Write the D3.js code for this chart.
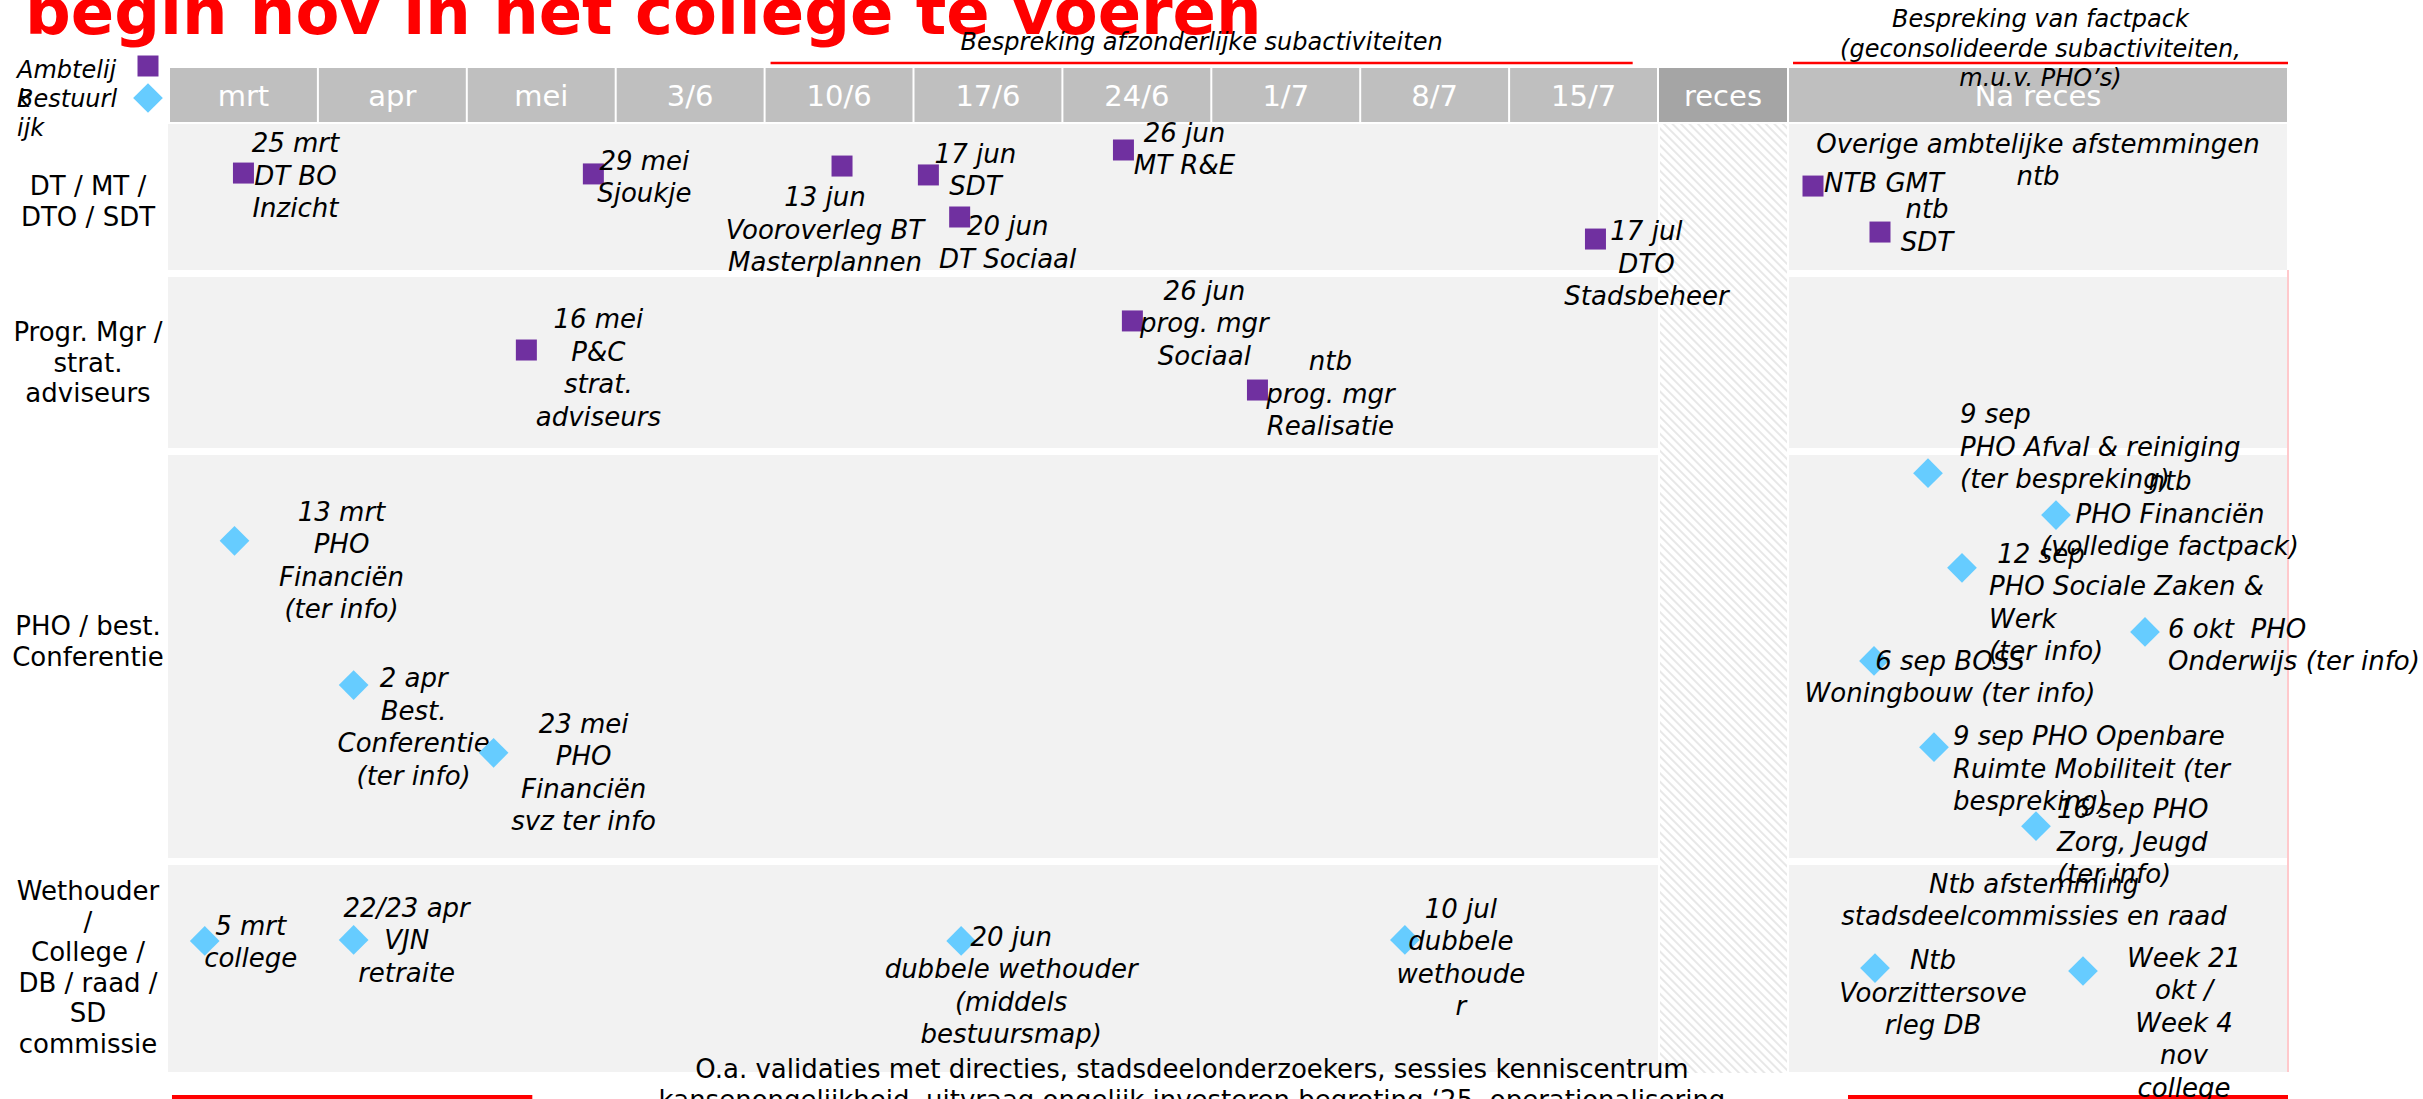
<!DOCTYPE html>
<html lang="nl">
<head>
<meta charset="UTF-8" />
<title>Planning factpack</title>
<script src="https://d3js.org/d3.v7.min.js"></script>
<style>
  body { margin: 0; background: #fff; }
  svg text { font-family: "DejaVu Sans", sans-serif; white-space: pre; }
</style>
</head>
<body></body>
<script>
  // --- data ---
  var title = "begin nov in het college te voeren";

  var columns = ["mrt", "apr", "mei", "3/6", "10/6", "17/6", "24/6", "1/7", "8/7", "15/7", "reces", "Na reces"];

  var rowLabels = [
    ["DT / MT /", "DTO / SDT"],
    ["Progr. Mgr /", "strat.", "adviseurs"],
    ["PHO / best.", "Conferentie"],
    ["Wethouder", "/", "College /", "DB / raad /", "SD", "commissie"]
  ];

  var legendItems = [
    { kind: "ambtelijk", label: ["Ambtelij", "k"] },
    { kind: "bestuurlijk", label: ["Bestuurl", "ijk"] }
  ];

  // phases above the header: from / to in column units
  var phases = [
    { from: 4.04, to: 9.83, text: ["Bespreking afzonderlijke subactiviteiten"] },
    { from: 11.01, to: 12, text: ["Bespreking van factpack", "(geconsolideerde subactiviteiten,", "m.u.v. PHO’s)"] }
  ];
  var bottomBars = [
    { from: 0.02, to: 2.44 },
    { from: 11.12, to: 12 }
  ];

  // at = position in column units, v = position inside the row (0 top .. 1 bottom)
  var ambtelijk = [
    { row: 0, at: 0.5, v: 0.336, text: ["25 mrt", "DT BO", "Inzicht"] },
    { row: 0, at: 2.85, v: 0.342, text: ["29 mei", "Sjoukje"] },
    { row: 0, at: 4.52, v: 0.288, text: ["13 jun", "Vooroverleg BT", "Masterplannen"] },
    { row: 0, at: 5.1, v: 0.349, text: ["17 jun", "SDT"] },
    { row: 0, at: 5.31, v: 0.637, text: ["20 jun", "DT Sociaal"] },
    { row: 0, at: 6.41, v: 0.178, text: ["26 jun", "MT R&E"] },
    { row: 0, at: 9.58, v: 0.788, text: ["17 jul", "DTO", "Stadsbeheer"] },
    { row: 0, at: 11.05, v: 0.425, text: ["NTB GMT"] },
    { row: 0, at: 11.184, v: 0.74, text: ["ntb", "SDT"] },
    { row: 1, at: 2.4, v: 0.427, text: ["16 mei", "P&C", "strat.", "adviseurs"] },
    { row: 1, at: 6.47, v: 0.257, text: ["26 jun", "prog. mgr", "Sociaal"] },
    { row: 1, at: 7.31, v: 0.661, text: ["ntb", "prog. mgr", "Realisatie"] }
  ];

  var bestuurlijk = [
    { row: 2, at: 0.44, v: 0.213, text: ["13 mrt", "PHO", "Financiën", "(ter info)"] },
    { row: 2, at: 1.24, v: 0.571, text: ["2 apr", "Best.", "Conferentie", "(ter info)"] },
    { row: 2, at: 2.18, v: 0.739, text: ["23 mei", "PHO", "Financiën", "svz ter info"] },
    { row: 2, at: 11.28, v: 0.045, text: ["9 sep", "PHO Afval & reiniging", "(ter bespreking)"] },
    { row: 2, at: 11.536, v: 0.149, text: ["ntb", "PHO Financiën", "(volledige factpack)"] },
    { row: 2, at: 11.348, v: 0.28, text: [" 12 sep", "PHO Sociale Zaken &", "Werk", "(ter info)"] },
    { row: 2, at: 11.714, v: 0.439, text: ["6 okt  PHO", "Onderwijs (ter info)"] },
    { row: 2, at: 11.172, v: 0.511, text: ["6 sep BOSS", "Woningbouw (ter info)"] },
    { row: 2, at: 11.292, v: 0.725, text: ["9 sep PHO Openbare", "Ruimte Mobiliteit (ter", "bespreking)"] },
    { row: 2, at: 11.496, v: 0.921, text: ["16 sep PHO", "Zorg, Jeugd", "(ter info)"] },
    { row: 3, at: 0.24, v: 0.367, text: ["5 mrt", "college"] },
    { row: 3, at: 1.24, v: 0.362, text: ["22/23 apr", "VJN", "retraite"] },
    { row: 3, at: 5.32, v: 0.367, text: ["20 jun", "dubbele wethouder", "(middels", "bestuursmap)"] },
    { row: 3, at: 8.3, v: 0.362, text: ["10 jul", "dubbele", "wethoude", "r"] },
    { row: 3, at: 11.174, v: 0.498, text: ["Ntb", "Voorzittersove", "rleg DB"] },
    { row: 3, at: 11.59, v: 0.512, text: ["Week 21", "okt /", "Week 4", "nov", "college"] }
  ];

  // free text inside the rows (no marker)
  var notes = [
    { row: 0, at: 11.5, v: 0.199, text: ["Overige ambtelijke afstemmingen", "ntb"] },
    { row: 3, at: 11.492, v: 0.135, text: ["Ntb afstemming", "stadsdeelcommissies en raad"] }
  ];

  var footnote = [
    "O.a. validaties met directies, stadsdeelonderzoekers, sessies kenniscentrum",
    "kansenongelijkheid, uitvraag ongelijk investeren begroting ‘25, operationalisering"
  ];

  // --- layout ---
  var W = 2423, H = 1099;
  var headerTop = 68, headerBottom = 122;
  var rowTop = [124, 277, 455, 865];
  var rowBottom = [270, 448, 858, 1072];
  var rowLabelY = [195, 341, 635, 900];

  // label offsets (px) from the marker centre: dx, dy of first baseline, anchor
  var ambtelijkLabelPos = [
    [52, -21, "middle"], [51, -4, "middle"], [-17, 40, "middle"], [47, -12, "middle"],
    [48, 18, "middle"], [61, -8, "middle"], [51, 1, "middle"], [11, 6, "start"],
    [47, -14, "middle"], [72, -22, "middle"], [72, -21, "middle"], [73, -20, "middle"]
  ];
  var bestuurlijkLabelPos = [
    [107, -20, "middle"], [60, 2, "middle"], [90, -20, "middle"], [32, -50, "start"],
    [114, -25, "middle"], [27, -5, "start"], [23, 6, "start"], [76, 9, "middle"],
    [19, -2, "start"], [21, -8, "start"], [46, -6, "middle"], [53, -23, "middle"],
    [50, 5, "middle"], [56, -22, "middle"], [58, 1, "middle"], [101, -4, "middle"]
  ];

  var purple = "#7030a0", blue = "#66ccff";

  var x = d3.scaleLinear().domain([0, 10, 11, 12]).range([169, 1658, 1788, 2288]);
  var rowY = rowTop.map(function (t, i) {
    return d3.scaleLinear().domain([0, 1]).range([t, rowBottom[i]]);
  });

  var svg = d3.select("body").append("svg")
    .attr("width", W)
    .attr("height", H);

  var defs = svg.append("defs");
  defs.append("pattern")
    .attr("id", "hatch")
    .attr("patternUnits", "userSpaceOnUse")
    .attr("width", 6)
    .attr("height", 6)
    .attr("patternTransform", "rotate(-45)")
    .append("line")
    .attr("x1", 3).attr("y1", 0).attr("x2", 3).attr("y2", 6)
    .attr("stroke", "#d4d4d4")
    .attr("stroke-width", 1.1);

  // row bands
  var bands = svg.append("g");
  rowTop.forEach(function (t, i) {
    bands.append("rect")
      .attr("x", x(0) - 1).attr("y", t)
      .attr("width", x(10) - x(0) + 1).attr("height", rowBottom[i] - t)
      .attr("fill", "#f2f2f2");
    bands.append("rect")
      .attr("x", x(11) + 1).attr("y", t)
      .attr("width", x(12) - x(11) - 2).attr("height", rowBottom[i] - t)
      .attr("fill", "#f2f2f2");
  });
  bands.append("rect")
    .attr("x", x(10) + 2).attr("y", rowTop[0])
    .attr("width", x(11) - x(10) - 3).attr("height", rowBottom[3] - rowTop[0] + 1)
    .attr("fill", "url(#hatch)");
  bands.append("line")
    .attr("x1", x(12)).attr("x2", x(12))
    .attr("y1", rowBottom[0]).attr("y2", rowBottom[3])
    .attr("stroke", "#ffc9cc").attr("stroke-width", 2);

  // header
  var header = svg.append("g")
    .selectAll("g")
    .data(columns)
    .join("g");
  header.append("rect")
    .attr("x", function (d, i) { return x(i) + 1; })
    .attr("y", headerTop)
    .attr("width", function (d, i) { return x(i + 1) - x(i) - 2; })
    .attr("height", headerBottom - headerTop)
    .attr("fill", function (d) { return d === "reces" ? "#a5a5a5" : "#bfbfbf"; });
  header.append("text")
    .attr("x", function (d, i) { return (x(i) + x(i + 1)) / 2; })
    .attr("y", 106)
    .attr("text-anchor", "middle")
    .attr("font-size", 29)
    .attr("fill", "#fff")
    .text(function (d) { return d; });

  // title
  svg.append("text")
    .attr("x", 25)
    .attr("y", 34)
    .attr("font-size", 64)
    .attr("font-weight", "bold")
    .attr("fill", "#ff0000")
    .text(title);

  function multiline(sel, lines, lh) {
    var x0 = +sel.attr("x"), y0 = +sel.attr("y");
    sel.selectAll("tspan")
      .data(lines)
      .join("tspan")
      .attr("x", x0)
      .attr("y", function (d, i) { return y0 + i * lh; })
      .text(function (d) { return d; });
  }

  // phases with red rules
  var phaseY = [50, 27];
  phases.forEach(function (p, i) {
    svg.append("line")
      .attr("x1", x(p.from)).attr("x2", x(p.to))
      .attr("y1", 63).attr("y2", 63)
      .attr("stroke", "#ff0000").attr("stroke-width", 2.5);
    svg.append("text")
      .attr("x", (x(p.from) + x(p.to)) / 2)
      .attr("y", phaseY[i])
      .attr("text-anchor", "middle")
      .attr("font-size", 24)
      .attr("font-style", "italic")
      .call(multiline, p.text, 29.5);
  });
  bottomBars.forEach(function (b) {
    svg.append("line")
      .attr("x1", x(b.from)).attr("x2", x(b.to))
      .attr("y1", 1097).attr("y2", 1097)
      .attr("stroke", "#ff0000").attr("stroke-width", 4);
  });

  // row labels
  rowLabels.forEach(function (lines, i) {
    svg.append("text")
      .attr("x", 88)
      .attr("y", rowLabelY[i])
      .attr("text-anchor", "middle")
      .attr("font-size", 26)
      .call(multiline, lines, 30.5);
  });

  var square = d3.symbol(d3.symbolSquare, 441);

  function marker(sel, kind) {
    sel.append("path")
      .attr("d", square)
      .attr("transform", kind === "ambtelijk" ? null : "rotate(45)")
      .attr("fill", kind === "ambtelijk" ? purple : blue);
  }

  // legend
  legendItems.forEach(function (d, i) {
    svg.append("text")
      .attr("x", 17)
      .attr("y", 77.5 + i * 29)
      .attr("font-size", 24)
      .attr("font-style", "italic")
      .call(multiline, d.label, 29);
    svg.append("g")
      .attr("transform", "translate(148," + (66 + i * 32) + ")")
      .call(marker, d.kind);
  });

  // events
  function drawEvents(list, pos, kind) {
    list.forEach(function (e, i) {
      var mx = x(e.at), my = rowY[e.row](e.v);
      svg.append("g")
        .attr("transform", "translate(" + mx + "," + my + ")")
        .call(marker, kind);
      svg.append("text")
        .attr("x", mx + pos[i][0])
        .attr("y", my + pos[i][1])
        .attr("text-anchor", pos[i][2])
        .attr("font-size", 26)
        .attr("font-style", "italic")
        .call(multiline, e.text, 32.5);
    });
  }
  drawEvents(ambtelijk, ambtelijkLabelPos, "ambtelijk");
  drawEvents(bestuurlijk, bestuurlijkLabelPos, "bestuurlijk");

  notes.forEach(function (n) {
    svg.append("text")
      .attr("x", x(n.at))
      .attr("y", rowY[n.row](n.v))
      .attr("text-anchor", "middle")
      .attr("font-size", 26)
      .attr("font-style", "italic")
      .call(multiline, n.text, 32);
  });

  svg.append("text")
    .attr("x", 1192)
    .attr("y", 1078)
    .attr("text-anchor", "middle")
    .attr("font-size", 26)
    .call(multiline, footnote, 31);
</script>
</html>
